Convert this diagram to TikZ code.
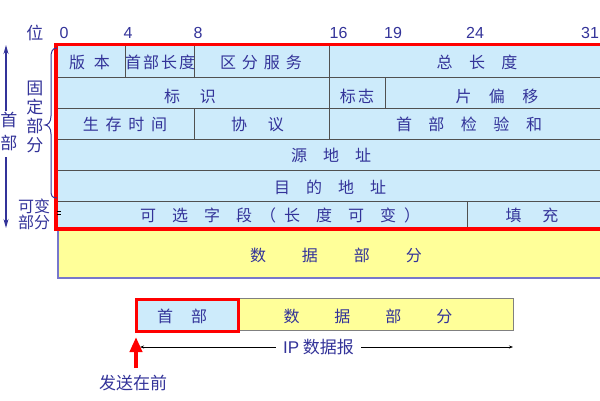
\documentclass[tikz,border=0pt]{standalone}
\usepackage{fontspec}
\setmainfont{Noto Sans CJK SC}
\newfontfamily\lsans{Liberation Sans}
\usetikzlibrary{arrows.meta}
\definecolor{cellblue}{HTML}{CDEBFB}
\definecolor{datayellow}{HTML}{FFFF99}
\definecolor{txtblue}{HTML}{333399}
\definecolor{gridgray}{HTML}{505050}
\definecolor{yborder}{HTML}{7777CC}
\definecolor{mred}{HTML}{FF0000}
\newcommand\pitched[2]{\def\pitchw{#1}\pitchedloop#2\relax}
\def\pitchedloop#1{\ifx\relax#1\else\makebox[\pitchw][c]{#1}\expandafter\pitchedloop\fi}
\tikzset{
  cell/.style={text=txtblue, font=\fontsize{16}{18}\selectfont, inner sep=0pt},
  bitlbl/.style={text=txtblue, font=\lsans\fontsize{16}{18}\selectfont, inner sep=0pt},
  side/.style={text=txtblue, inner sep=0pt, align=center},
  gridline/.style={draw=gridgray, line width=0.8pt},
  redframe/.style={draw=mred, line width=3.5pt},
}
\begin{document}
\begin{tikzpicture}[x=1pt,y=-1pt]
\useasboundingbox (0,0) rectangle (600,400);
\clip (0,0) rectangle (600,400);
% yellow data box
\fill[datayellow] (58,229) rectangle (610,278);
\draw[yborder, line width=1.2pt] (58,229) -- (58,278) -- (610,278);
% header cells
\fill[cellblue] (56,44) rectangle (610,229);
\foreach \yy in {77,108,139,170,201} \draw[gridline] (56,\yy) -- (610,\yy);
\draw[gridline] (125,44) -- (125,77);
\draw[gridline] (194,44) -- (194,77);
\draw[gridline] (194,108) -- (194,139);
\draw[gridline] (329,44) -- (329,139);
\draw[gridline] (385,77) -- (385,108);
\draw[gridline] (467,201) -- (467,229);
\draw[redframe] (56,44.5) rectangle (612,229);
\draw[black, line width=0.5pt] (57,211.5) -- (61,211.5) (57,214.5) -- (61,214.5);
% bit labels
\node[side, font=\fontsize{17}{18}\selectfont] (wei) at (35,33) {位};
\node[bitlbl] (b0) at (64,33) {0};
\node[bitlbl] (b4) at (128,33) {4};
\node[bitlbl] (b8) at (198,33) {8};
\node[bitlbl] (b16) at (338.5,33) {16};
\node[bitlbl] (b19) at (393,33) {19};
\node[bitlbl] (b24) at (475,33) {24};
\node[bitlbl] (b31) at (590,33) {31};
% cell texts
\node[cell] (ver) at (89.5,62.5) {\pitched{25pt}{版本}};
\node[cell] (ihl) at (160,62.5) {\pitched{18pt}{首部长度}};
\node[cell] (ds) at (261,62.5) {\pitched{22pt}{区分服务}};
\node[cell] (tl) at (477,62.5) {\pitched{32.5pt}{总长度}};
\node[cell] (id) at (190,96) {\pitched{36pt}{标识}};
\node[cell] (flg) at (357,96) {\pitched{18.5pt}{标志}};
\node[cell] (fo) at (497,96) {\pitched{33.5pt}{片偏移}};
\node[cell] (ttl) at (125,124.5) {\pitched{22.7pt}{生存时间}};
\node[cell] (pro) at (257.5,124) {\pitched{37pt}{协议}};
\node[cell] (chk) at (469,124.5) {\pitched{32.5pt}{首部检验和}};
\node[cell] (src) at (331,155.5) {\pitched{32pt}{源地址}};
\node[cell] (dst) at (330,187) {\pitched{32pt}{目的地址}};
\node[cell] (opt) at (276,215.5) {\pitched{32pt}{可选字段}（\pitched{32pt}{长度可变}）};
\node[cell] (pad) at (532,215.5) {\pitched{37pt}{填充}};
\node[cell] (data) at (336,255) {\pitched{52pt}{数据部分}};
% left annotations
\node[side, font=\fontsize{17}{19}\selectfont] (gd) at (35,116.5) {固\\定\\部\\分};
\node[side, font=\fontsize{16}{16}\selectfont] (kb) at (34,214.5) {可变\\部分};
\node[side, font=\fontsize{17}{23}\selectfont] (sb) at (9,131.5) {首\\部};
\coordinate (hTop) at (6,45);
\coordinate (hTopE) at (6,111);
\coordinate (hBot) at (6,228);
\coordinate (hBotE) at (6,157);
\draw[txtblue, line width=1.1pt, -{Stealth[length=9pt,width=5pt]}] (hTopE) -- (hTop);
\draw[txtblue, line width=1.1pt, -{Stealth[length=9pt,width=5pt]}] (hBotE) -- (hBot);
\draw[txtblue, line width=1pt] (57,48) .. controls (52,48) and (51,52) .. (51,58) -- (51,116) .. controls (51,122) and (48,125) .. (45,125) .. controls (48,125) and (51,128) .. (51,134) -- (51,190) .. controls (51,196) and (52,198) .. (57,198);
% bottom datagram
\node[draw=gray, line width=1pt, fill=datayellow, minimum width=276pt, minimum height=32pt, inner sep=0pt, anchor=north west] (dbox) at (237,298) {};
\node[cell] (dtxt) at (368,316) {\pitched{51pt}{数据部分}};
\node[draw=mred, line width=3pt, fill=cellblue, minimum width=102pt, minimum height=32pt, inner sep=0pt, anchor=north west] (hbox) at (135,298) {};
\node[cell] (htxt) at (182,316) {\pitched{34pt}{首部}};
\coordinate (ipL) at (140,347);
\coordinate (ipR) at (513,347);
\draw[black, line width=0.7pt, {Stealth[length=4pt,width=3pt]}-{Stealth[length=4pt,width=3pt]}] (ipL) -- (ipR);
\node[fill=white, text=txtblue, inner xsep=7pt, inner ysep=1pt, font=\fontsize{17}{18}\selectfont] (iplbl) at (318.5,347) {{\lsans IP} 数据报};
\coordinate (raS) at (136,368);
\coordinate (raE) at (136,337);
\draw[mred, line width=4pt, -{Triangle[length=15pt,width=12pt]}] (raS) -- (raE);
\node[side, font=\fontsize{17}{18}\selectfont] (fs) at (133,383) {发送在前};
\end{tikzpicture}
\end{document}
